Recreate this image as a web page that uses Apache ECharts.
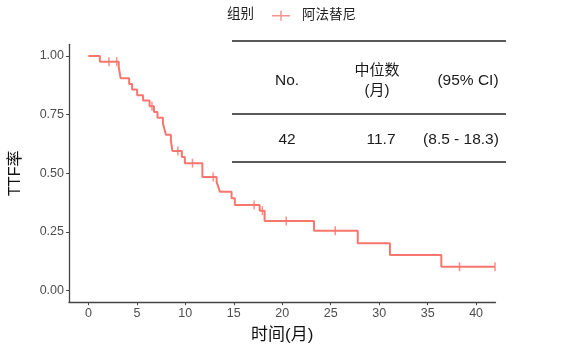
<!DOCTYPE html>
<html><head><meta charset="utf-8">
<script src="https://cdn.jsdelivr.net/npm/echarts@6/dist/echarts.min.js"></script>
<style>html,body{margin:0;padding:0;background:#fff}#c{width:564px;height:358px}</style>
</head><body><div id="c"></div>
<script>
const groupTitle = '组别';
const groupName = '阿法替尼';
const eventTimes = [0, 1.18, 3.13, 3.33, 4.21, 4.51, 5.03, 5.64, 6.31, 6.77, 7.13, 7.69, 7.85, 8.0, 8.51, 8.67, 9.64, 9.95, 11.76, 13.23, 13.4, 13.57, 14.77, 15.11, 17.67, 18.18, 23.28, 27.79, 31.11, 36.41, 41.95];
const survival = [1.0, 0.976, 0.952, 0.905, 0.881, 0.857, 0.833, 0.810, 0.786, 0.761, 0.737, 0.712, 0.688, 0.664, 0.640, 0.595, 0.569, 0.543, 0.484, 0.463, 0.442, 0.421, 0.393, 0.365, 0.340, 0.296, 0.255, 0.201, 0.151, 0.101, 0.101];
const censorTimes = [2.12, 2.92, 6.56, 9.23, 10.74, 12.87, 17.1, 17.95, 20.41, 25.47, 38.29, 41.95];
const xTicks = [0, 5, 10, 15, 20, 25, 30, 35, 40];
const yTicks = [0, 0.25, 0.5, 0.75, 1];
const tableHeader = ['No.', '中位数\n(月)', '(95% CI)'];
const tableRow = ['42', '11.7', '(8.5 - 18.3)'];

function survAt(t) {
  let s = survival[0];
  for (let i = 0; i < eventTimes.length; i++) { if (eventTimes[i] <= t) s = survival[i]; }
  return s;
}
const red = '#F8766D';
const latin = "'Liberation Sans','Noto Sans CJK SC',sans-serif";
const lineData = eventTimes.map((t, i) => [t, survival[i]]);
const censorData = censorTimes.map(t => [t, survAt(t)]);

const headerX = [287, 377, 468];
const rowX = [287, 381, 461];
const graphics = [];
[41, 114, 162].forEach(y => graphics.push({type: 'line', shape: {x1: 232, y1: y, x2: 506, y2: y}, style: {stroke: '#5a5a5a', lineWidth: 2}}));
tableHeader.forEach((t, i) => graphics.push({type: 'text', x: headerX[i], y: 81, style: {text: t, fill: '#1a1a1a', font: (i === 1 ? '15px ' : '15.5px ') + latin, textAlign: 'center', textVerticalAlign: 'middle', lineHeight: 20}}));
tableRow.forEach((t, i) => graphics.push({type: 'text', x: rowX[i], y: 140, style: {text: t, fill: '#1a1a1a', font: '15.5px ' + latin, textAlign: 'center', textVerticalAlign: 'middle'}}));
graphics.push({type: 'text', x: 227, y: 14, style: {text: groupTitle, fill: '#222', font: '13.5px ' + latin, textVerticalAlign: 'middle'}});

const chart = echarts.init(document.getElementById('c'), null, {renderer: 'canvas'});
chart.setOption({
  animation: false,
  backgroundColor: '#fff',
  grid: {left: 66.5, right: 68.5, top: 44.3, bottom: 55.8, containLabel: false},
  legend: {
    left: 272, top: 9, padding: 0, itemWidth: 18, itemHeight: 10, itemGap: 10,
    data: [{name: groupName, icon: 'path://M0,4.3L18,4.3L18,5.7L0,5.7Z M8.3,0L9.7,0L9.7,10L8.3,10Z'}],
    textStyle: {fontSize: 13.5, color: '#222', fontFamily: latin, padding: [0, 0, 0, 7]},
    itemStyle: {opacity: 0.8}
  },
  xAxis: {
    type: 'value', min: -2, max: 42,
    name: '时间(月)', nameLocation: 'middle', nameGap: 25,
    nameTextStyle: {fontSize: 17, color: '#111', fontFamily: latin},
    axisLine: {onZero: false, lineStyle: {color: '#444', width: 1.3}},
    axisTick: {show: true, length: 3, customValues: xTicks, lineStyle: {color: '#444'}},
    axisLabel: {customValues: xTicks, fontSize: 12.5, color: '#4d4d4d', margin: 5, fontFamily: latin},
    splitLine: {show: false}
  },
  yAxis: {
    type: 'value', min: -0.05, max: 1.05,
    name: 'TTF率', nameLocation: 'middle', nameGap: 45,
    nameTextStyle: {fontSize: 16, color: '#111', fontFamily: latin},
    axisLine: {show: true, onZero: false, lineStyle: {color: '#444', width: 1.3}},
    axisTick: {show: true, length: 3, customValues: yTicks, lineStyle: {color: '#444'}},
    axisLabel: {customValues: yTicks, fontSize: 12.5, color: '#4d4d4d', margin: 5, fontFamily: latin, formatter: v => v.toFixed(2)},
    splitLine: {show: false}
  },
  graphic: graphics,
  series: [
    {name: groupName, type: 'line', step: 'end', data: lineData, showSymbol: false, symbol: 'none',
     lineStyle: {color: red, width: 2}, itemStyle: {color: red}},
    {name: 'censor', type: 'scatter', data: censorData, symbol: 'rect', symbolSize: [1.5, 9],
     itemStyle: {color: red}, silent: true}
  ]
});
</script></body></html>
